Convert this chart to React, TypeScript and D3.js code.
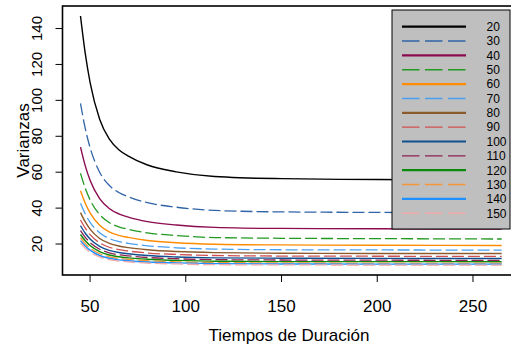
import * as d3 from "d3";

// durations (x) at which the curves were read
const tiempos = [45, 47.5, 50, 55, 60, 65, 70, 80, 95, 115, 150, 200, 265];

const labels = ["20", "30", "40", "50", "60", "70", "80", "90", "100", "110", "120", "130", "140", "150"];

const v20 = [147, 126, 110, 89.5, 78.5, 72.5, 69, 64, 60.2, 57.6, 56.4, 55.9, 55.6];
const v30 = [98.3, 84.3, 73.7, 60, 52.7, 48.7, 46.3, 43, 40.5, 38.7, 37.9, 37.6, 37.4];
const v40 = [74, 63.5, 55.5, 45.3, 39.8, 36.8, 35, 32.5, 30.6, 29.3, 28.7, 28.5, 28.3];
const v50 = [59.4, 51, 44.6, 36.4, 32, 29.6, 28.2, 26.2, 24.7, 23.6, 23.2, 23, 22.8];
const v60 = [49.7, 42.7, 37.3, 30.5, 26.8, 24.8, 23.7, 22, 20.7, 19.9, 19.5, 19.3, 19.2];
const v70 = [42.7, 36.7, 32.1, 26.3, 23.1, 21.4, 20.4, 19, 17.9, 17.2, 16.8, 16.7, 16.6];
const v80 = [37.5, 32.3, 28.3, 23.1, 20.4, 18.9, 18, 16.8, 15.8, 15.2, 14.9, 14.7, 14.7];
const v90 = [33.4, 28.8, 25.2, 20.7, 18.2, 16.9, 16.1, 15, 14.2, 13.6, 13.3, 13.2, 13.1];
const v100 = [30.2, 26, 22.8, 18.7, 16.5, 15.3, 14.6, 13.6, 12.8, 12.3, 12.1, 12, 11.9];
const v110 = [27.5, 23.7, 20.8, 17.1, 15.1, 14, 13.4, 12.5, 11.8, 11.3, 11.1, 11, 10.9];
const v120 = [25.3, 21.8, 19.2, 15.8, 13.9, 12.9, 12.3, 11.5, 10.9, 10.4, 10.2, 10.2, 10.1];
const v130 = [23.5, 20.2, 17.8, 14.6, 12.9, 12, 11.5, 10.7, 10.1, 9.7, 9.5, 9.4, 9.4];
const v140 = [21.9, 18.9, 16.6, 13.6, 12.1, 11.2, 10.7, 10, 9.5, 9.1, 8.9, 8.8, 8.8];
const v150 = [20.5, 17.7, 15.5, 12.8, 11.3, 10.5, 10.1, 9.4, 8.9, 8.5, 8.4, 8.3, 8.3];

const series = [v20, v30, v40, v50, v60, v70, v80, v90, v100, v110, v120, v130, v140, v150];

const colors = [
  "#000000", "#2f64a6", "#8b0a50", "#229a22", "#ff8c00", "#4aa0f0", "#8b5a2b",
  "#d05050", "#10508f", "#8b2252", "#0a8a0a", "#f5963a", "#1e90ff", "#f0a8a8",
];
const dashed = [false, true, false, true, false, true, false, true, false, true, false, true, false, true];

const xTicks = [50, 100, 150, 200, 250];
const yTicks = [20, 40, 60, 80, 100, 120, 140];
const xLim = [45, 280];

const W = 511;
const H = 349;
const left = 62.5;
const top = 6;
const bottom = 275;

// R style: extend range by 4% on both sides
function pad([a, b]: number[]) {
  const r = b - a;
  return [a - 0.04 * r, b + 0.04 * r];
}

export default function App() {
  const xd = pad(xLim);
  const x = d3.scaleLinear().domain(xd).range([left, left + (xd[1] - xd[0]) * 1.9145]);
  const yExt = d3.extent(series.flat()) as number[];
  const y = d3.scaleLinear().domain(pad(yExt)).range([bottom, top]);

  const line = d3
    .line<number>()
    .x((_, i) => x(tiempos[i]))
    .y((d) => y(d))
    .curve(d3.curveMonotoneX);

  const right = x.range()[1];
  const font = "'Liberation Sans', Arial, sans-serif";

  const legX = 392;
  const legY = 10;
  const legW = 118;
  const legH = 219;
  const rowY0 = 26.7;
  const rowStep = 14.35;

  return (
    <svg
      width={W}
      height={H}
      style={{ position: "absolute", left: 0, top: 0, background: "#fff" }}
      fontFamily={font}
    >
      <g fill="none">
        {series.map((s, i) => (
          <path
            key={labels[i]}
            d={line(s) ?? ""}
            stroke={colors[i]}
            strokeWidth={dashed[i] ? 1.3 : 1.4}
            strokeDasharray={dashed[i] ? "12 4" : undefined}
          />
        ))}
      </g>

      {/* frame */}
      <rect x={left} y={top} width={right - left} height={bottom - top} fill="none" stroke="#000" strokeWidth={1.6} />

      {/* x axis */}
      <g>
        {xTicks.map((t) => (
          <g key={t}>
            <line x1={x(t)} x2={x(t)} y1={bottom} y2={bottom + 7} stroke="#000" strokeWidth={1} />
            <text x={x(t)} y={312} textAnchor="middle" fontSize={17}>
              {t}
            </text>
          </g>
        ))}
        <text x={289} y={341} textAnchor="middle" fontSize={17}>
          Tiempos de Duración
        </text>
      </g>

      {/* y axis */}
      <g>
        {yTicks.map((t) => (
          <g key={t}>
            <line x1={left} x2={left - 7} y1={y(t)} y2={y(t)} stroke="#000" strokeWidth={1} />
            <text
              transform={`translate(42,${y(t)}) rotate(-90)`}
              textAnchor="middle"
              fontSize={15}
            >
              {t}
            </text>
          </g>
        ))}
        <text transform={`translate(29,${(top + bottom) / 2}) rotate(-90)`} textAnchor="middle" fontSize={17}>
          Varianzas
        </text>
      </g>

      {/* legend */}
      <g>
        <rect x={legX} y={legY} width={legW} height={legH} fill="#bfbfbf" stroke="#000" strokeWidth={1} />
        {labels.map((l, i) => {
          const yy = rowY0 + i * rowStep;
          return (
            <g key={l}>
              <line
                x1={402}
                x2={466}
                y1={yy}
                y2={yy}
                stroke={colors[i]}
                strokeWidth={dashed[i] ? 1.4 : 2.2}
                strokeDasharray={dashed[i] ? "17.5 5.5" : undefined}
              />
              <text x={486.5} y={yy} dy="0.36em" fontSize={12}>
                {l}
              </text>
            </g>
          );
        })}
      </g>
    </svg>
  );
}
